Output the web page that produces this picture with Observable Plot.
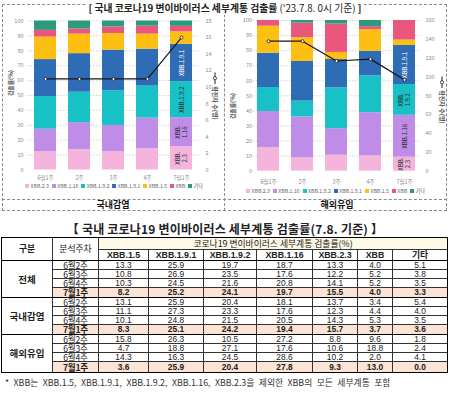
<!DOCTYPE html>
<html><head><meta charset="utf-8">
<script src="https://cdn.jsdelivr.net/npm/d3@7"></script>
<script src="https://cdn.jsdelivr.net/npm/@observablehq/plot@0.6"></script>
<style>
html,body{margin:0;padding:0;background:#fff;}
body{width:450px;height:393px;position:relative;overflow:hidden;font-family:"Noto Sans CJK KR","Noto Sans",sans-serif;color:#222;}
.abs{position:absolute;}
.dash{position:absolute;box-sizing:border-box;border-color:#8a8a8a;border-style:dashed;border-width:0;}
#title1{left:0;width:450px;top:2px;text-align:center;font-size:9.8px;line-height:13px;}
#title1 span.t{background:#fff;padding:0 3px;}
.ptitle{font-weight:bold;font-size:9px;line-height:10px;transform:translate(-50%,-50%);white-space:nowrap;color:#111;}
.ytitle{font-size:5.8px;font-weight:bold;color:#555;white-space:nowrap;line-height:7px;transform:translate(-50%,-50%) rotate(-90deg);}
.rtitle{font-size:6px;font-weight:bold;color:#555;white-space:nowrap;line-height:7px;transform:translate(-50%,-50%) rotate(90deg);display:flex;align-items:center;gap:2px;}
.legend{display:flex;justify-content:space-between;align-items:center;font-size:5.2px;color:#666;line-height:6px;transform:translateY(-50%);}
.legend .it{display:flex;align-items:center;gap:1.5px;white-space:nowrap;}
.legend .sw{width:4px;height:4px;display:inline-block;}
#title2{left:0;width:450px;top:221px;text-align:center;font-size:12px;font-weight:bold;line-height:15px;letter-spacing:0.2px;}
#tbl{position:absolute;left:1px;top:237px;width:445px;display:grid;grid-template-columns:51px 46px 50px 55px 53px 56px 45px 35px 54px;grid-template-rows:12px 10.5px repeat(12,9.25px);border:1.5px solid #000;box-sizing:content-box;}
#tbl .c{box-sizing:border-box;border-right:0.8px solid #333;border-bottom:0.8px solid #333;display:flex;align-items:center;justify-content:center;overflow:visible;white-space:nowrap;font-family:"Liberation Sans","Noto Sans CJK KR",sans-serif;font-size:8.4px;line-height:8px;background:#fff;}
#tbl .c.kr{font-family:"Noto Sans CJK KR",sans-serif;font-size:8.6px;letter-spacing:-0.2px;}
#tbl .c.lastcol{border-right:none;}
#tbl .c.hdr{font-family:"Noto Sans CJK KR",sans-serif;font-size:9.5px;}
#tbl .c.bold{font-weight:bold;}
#tbl .c.cream{background:#fdf9e6;font-family:"Noto Sans CJK KR",sans-serif;font-size:8.8px;}
#tbl .c.h2{font-weight:bold;font-size:8.8px;border-bottom:1.5px solid #000;}
#tbl .c.hl{background:#fbe4d6;font-weight:bold;}
#tbl .c.gend{border-bottom:1.3px solid #000;}
#tbl .c.tend{border-bottom:none;}
#foot{left:5px;top:377px;font-size:8.8px;color:#333;white-space:nowrap;word-spacing:2.5px;line-height:11px;}
</style></head><body>
<script>
// ---------- chart data ----------
const weeks = ["6월1주", "2주", "3주", "4주", "7월1주"];
const variants = ["XBB.2.3", "XBB.1.16", "XBB.1.9.2", "XBB.1.9.1", "XBB.1.5", "XBB", "기타"];
const variantColors = ["#f4b4db", "#bf8de8", "#17c1c6", "#2e6cb6", "#fdc012", "#e9587c", "#2e9a7d"];

// 국내감염 (%), per variant across weeks
const domXBB23  = [12.2, 13.7, 12.3, 14.3, 15.7];
const domXBB116 = [15.2, 18.1, 17.6, 20.5, 19.4];
const domXBB192 = [21.9, 20.4, 23.3, 21.5, 24.2];
const domXBB191 = [24.8, 25.9, 27.3, 24.8, 25.1];
const domXBB15  = [15.1, 13.1, 11.1, 10.1, 8.3];
const domXBB    = [4.5, 3.4, 4.4, 5.3, 3.7];
const domEtc    = [6.3, 5.4, 4.0, 3.5, 3.6];
const domCases  = [11, 11, 11, 11, 16];

// 해외유입 (%), per variant across weeks
const ovsXBB23  = [15.7, 8.8, 10.6, 10.2, 9.3];
const ovsXBB116 = [23.9, 27.2, 17.6, 28.6, 27.8];
const ovsXBB192 = [15.9, 10.5, 27.1, 24.5, 20.4];
const ovsXBB191 = [22.8, 26.3, 18.8, 16.3, 25.9];
const ovsXBB15  = [17.9, 15.8, 4.7, 14.3, 3.6];
const ovsXBB    = [3.8, 9.6, 18.8, 2.0, 13.0];
const ovsEtc    = [0.0, 1.8, 2.4, 4.1, 0.0];
const ovsCases  = [138, 138, 117, 119, 97];

const domLabels = {"XBB.2.3": "XBB.\n2.3", "XBB.1.16": "XBB.\n1.16", "XBB.1.9.2": "XBB.1.9.2", "XBB.1.9.1": "XBB.1.9.1"};
const ovsLabels = {"XBB.2.3": "XBB.\n2.3", "XBB.1.16": "XBB.1.16", "XBB.1.9.2": "XBB.\n1.9.2", "XBB.1.9.1": "XBB.1.9.1"};

// ---------- table data ----------
const tableCols = ["XBB.1.5", "XBB.1.9.1", "XBB.1.9.2", "XBB.1.16", "XBB.2.3", "XBB", "기타"];
const tableGroups = ["전체", "국내감염", "해외유입"];
const tableWeeks = ["6월2주", "6월3주", "6월4주", "7월1주"];
const tableTotal = [
  [13.3, 25.9, 19.7, 18.7, 13.3, 4.0, 5.1],
  [10.8, 26.9, 23.5, 17.6, 12.2, 5.2, 3.8],
  [10.3, 24.5, 21.6, 20.8, 14.1, 5.2, 3.5],
  [8.2, 25.2, 24.1, 19.7, 15.5, 4.0, 3.3]];
const tableDomestic = [
  [13.1, 25.9, 20.4, 18.1, 13.7, 3.4, 5.4],
  [11.1, 27.3, 23.3, 17.6, 12.3, 4.4, 4.0],
  [10.1, 24.8, 21.5, 20.5, 14.3, 5.3, 3.5],
  [8.3, 25.1, 24.2, 19.4, 15.7, 3.7, 3.6]];
const tableOverseas = [
  [15.8, 26.3, 10.5, 27.2, 8.8, 9.6, 1.8],
  [4.7, 18.8, 27.1, 17.6, 10.6, 18.8, 2.4],
  [14.3, 16.3, 24.5, 28.6, 10.2, 2.0, 4.1],
  [3.6, 25.9, 20.4, 27.8, 9.3, 13.0, 0.0]];

const FONT = '"Noto Sans CJK KR","Noto Sans",sans-serif';
const lastWeek = weeks[weeks.length - 1];

function el(tag, cls, style, html, parent) {
  const e = document.createElement(tag);
  if (cls) e.className = cls;
  if (style) e.setAttribute("style", style);
  if (html != null) e.innerHTML = html;
  (parent || document.body).appendChild(e);
  return e;
}

function makeChart(o) {
  const data = [];
  o.series.forEach((vals, i) => weeks.forEach((w, j) => data.push({week: w, variant: variants[i], value: vals[j]})));
  const caseData = weeks.map((w, j) => ({week: w, cases: o.cases[j]}));
  const k = 100 / o.caseMax;
  const labelText = (pred) => d => (d.week === lastWeek && pred(d.variant)) ? (o.labels[d.variant] || null) : null;
  return Plot.plot({
    width: o.width, height: o.height,
    marginTop: o.mt, marginBottom: o.mb, marginLeft: o.ml, marginRight: o.mr,
    style: {fontFamily: FONT, color: "#8a8a8a", background: "transparent", overflow: "visible"},
    x: {domain: weeks, paddingInner: o.pin, paddingOuter: o.pout, label: null},
    y: {domain: [0, 100], label: null},
    color: {domain: variants, range: variantColors},
    marks: [
      Plot.gridY(d3.range(10, 101, 10), {stroke: "#cfcfcf", strokeDasharray: "1.5,1.5", strokeOpacity: 0.9}),
      Plot.barY(data, {x: "week", y: "value", fill: "variant", order: variants}),
      Plot.text(data, Plot.stackY({x: "week", y: "value", z: "variant", order: variants,
        text: labelText(v => v !== "XBB.1.9.1"), rotate: -90, fill: "#2a2a2a", fontSize: 6, lineHeight: 1.05})),
      Plot.text(data, Plot.stackY({x: "week", y: "value", z: "variant", order: variants,
        text: labelText(v => v === "XBB.1.9.1"), rotate: -90, fill: "#ffffff", fontSize: 6, lineHeight: 1.05})),
      Plot.line(caseData, {x: "week", y: d => d.cases * k, stroke: "#161616", strokeWidth: 1.2}),
      Plot.dot(caseData, {x: "week", y: d => d.cases * k, r: 1.5, fill: "#ffffff", stroke: "#161616", strokeWidth: 0.8}),
      Plot.axisY(d3.range(0, 101, 10), {anchor: "left", tickSize: 0, tickPadding: o.lPad, fontSize: 5.5}),
      Plot.axisY(d3.range(0, o.caseMax + 1, o.caseStep).map(v => v * k), {anchor: "right", tickSize: 0, tickPadding: o.rPad, fontSize: 5.5, tickFormat: v => Math.round(v / k)}),
      Plot.axisX({tickSize: 0, tickPadding: o.xPad, fontSize: 5.5})
    ]
  });
}

// dashed frame
el("div", "dash", "left:2px;top:4px;width:445px;height:207px;border-width:1px;");
el("div", "dash", "left:224px;top:4px;width:0;height:207px;border-left-width:1px;");
el("div", "dash", "left:2px;top:199px;width:445px;height:0;border-top-width:1px;");

// title
el("div", "abs", "", '<span class="t"><b>[ 국내 코로나19 변이바이러스 세부계통 검출률</b> (\'23.7.8. 0시 기준) <b>]</b></span>').id = "title1";

// charts
const left = makeChart({series: [domXBB23, domXBB116, domXBB192, domXBB191, domXBB15, domXBB, domEtc], cases: domCases, caseMax: 18, caseStep: 2, labels: domLabels,
  width: 224, height: 168, mt: 6.5, mb: 12.5, ml: 27, mr: 25, pin: 0.34, pout: 0.174, lPad: 4, rPad: 6, xPad: 6.5});
el("div", "abs", "left:0;top:14px;").appendChild(left);
const right = makeChart({series: [ovsXBB23, ovsXBB116, ovsXBB192, ovsXBB191, ovsXBB15, ovsXBB, ovsEtc], cases: ovsCases, caseMax: 160, caseStep: 20, labels: ovsLabels,
  width: 226, height: 172, mt: 6, mb: 15.3, ml: 29, mr: 30, pin: 0.35, pout: 0.13, lPad: 1.5, rPad: 5, xPad: 9});
el("div", "abs", "left:224px;top:14px;").appendChild(right);

// axis titles
el("div", "abs ytitle", "left:10px;top:83px;", "검출률(%)");
el("div", "abs ytitle", "left:232px;top:106px;", "검출률(%)");
const icon = '<svg width="12" height="5"><line x1="0" y1="2.5" x2="12" y2="2.5" stroke="#222" stroke-width="1"/><circle cx="6" cy="2.5" r="1.6" fill="#fff" stroke="#222" stroke-width="0.8"/></svg>';
el("div", "abs rtitle", "left:215px;top:96px;", icon + "<span>확진자 수(명)</span>");
el("div", "abs rtitle", "left:442px;top:100px;", icon + "<span>확진자 수(명)</span>");

// legends
function legend(x, y, w) {
  const d = el("div", "abs legend", `left:${x}px;top:${y}px;width:${w}px;`);
  d.innerHTML = variants.map((v, i) => `<span class="it"><span class="sw" style="background:${variantColors[i]}"></span>${v}</span>`).join("");
}
legend(25, 186, 178);
legend(246, 191, 179);

// panel labels
el("div", "abs ptitle", "left:113px;top:205px;", "국내감염");
el("div", "abs ptitle", "left:337px;top:205px;", "해외유입");

// second title
el("div", "abs", "", "【 국내 코로나19 변이바이러스 세부계통 검출률(7.8. 기준) 】").id = "title2";

// table (CSS grid)
const tbl = el("div", "", "");
tbl.id = "tbl";
el("div", "c hdr bold h2", "grid-row:span 2;", "구분", tbl);
el("div", "c hdr h2", "grid-row:span 2;font-weight:normal;", "분석주차", tbl);
el("div", "c cream lastcol", "grid-column:span 7;", "코로나19 변이바이러스 세부계통 검출률(%)", tbl);
tableCols.forEach((c, i) => el("div", "c h2" + (i === tableCols.length - 1 ? " lastcol kr" : ""), "", c, tbl));
[tableTotal, tableDomestic, tableOverseas].forEach((rows, gi) => {
  const lastGroup = gi === 2;
  rows.forEach((r, ri) => {
    const isLast = ri === rows.length - 1;
    const endCls = isLast ? (lastGroup ? " tend" : " gend") : "";
    if (ri === 0) el("div", "c grp bold hdr" + (lastGroup ? " tend" : " gend"), `grid-row:span ${rows.length};`, tableGroups[gi], tbl);
    const hl = isLast ? " hl" : "";
    el("div", "c kr" + hl + endCls, "", tableWeeks[ri], tbl);
    r.forEach((v, ci) => el("div", "c" + hl + endCls + (ci === r.length - 1 ? " lastcol" : ""), "", v.toFixed(1), tbl));
  });
});

// footnote
el("div", "abs", "", "* XBB는 XBB.1.5, XBB.1.9.1, XBB.1.9.2, XBB.1.16, XBB.2.3을 제외한 XBB의 모든 세부계통 포함").id = "foot";
</script>
</body></html>
